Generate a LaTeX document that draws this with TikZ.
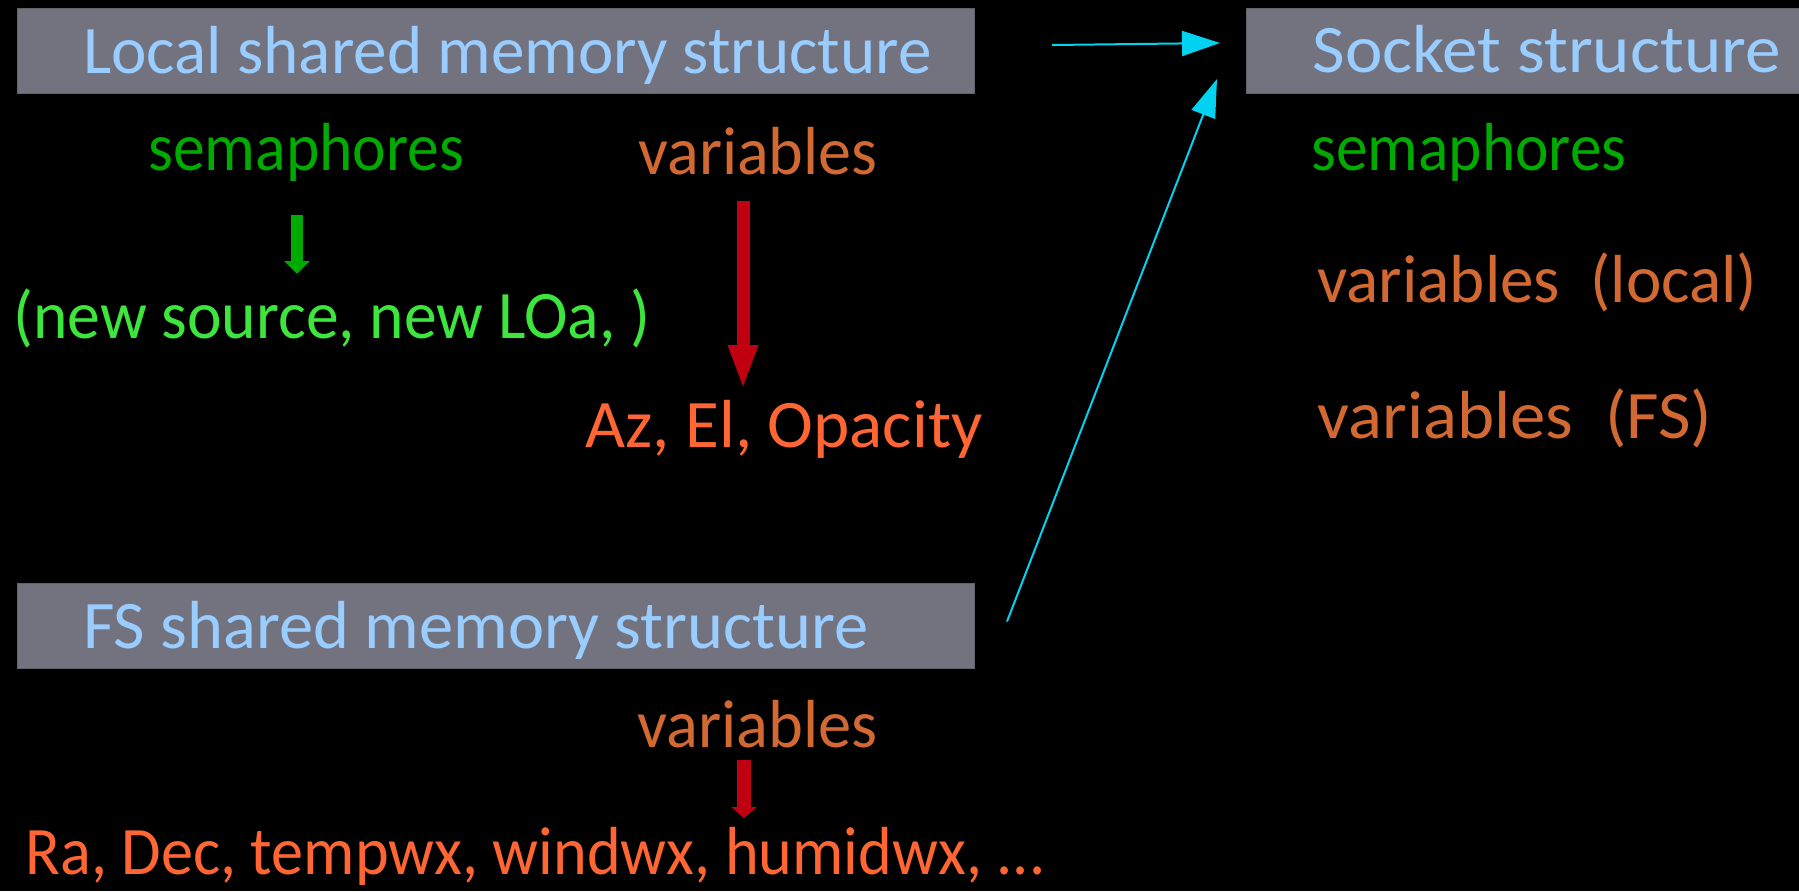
\documentclass[tikz,border=0pt]{standalone}
\usepackage{fontspec}
\usepackage{graphicx}
\setmainfont{Carlito}
\usetikzlibrary{arrows.meta}

\definecolor{boxgray}{RGB}{115,115,128}
\definecolor{titleblue}{RGB}{153,204,255}
\definecolor{semgreen}{RGB}{0,170,0}
\definecolor{litegreen}{RGB}{60,230,60}
\definecolor{varbrown}{RGB}{210,105,50}
\definecolor{valorange}{RGB}{255,102,51}
\definecolor{arrowred}{RGB}{192,0,16}
\definecolor{linkcyan}{RGB}{0,210,240}

% stretch or squeeze a label to a given width, keeping its height
\newcommand\fitw[2]{\resizebox{#1}{\height}{#2}}

\tikzset{
  panel/.style={fill=boxgray, draw=boxgray!85!black, line width=0.5pt,
    anchor=north west, inner sep=0pt},
  lbl/.style={anchor=base west, inner sep=0pt, font=\fontsize{34}{40}\selectfont},
  title/.style={lbl, text=titleblue},
  thickred/.style={draw=arrowred, line width=6.5pt,
    -{Triangle[width=13.5pt,length=22.5pt]}, fill=arrowred},
  thinred/.style={draw=arrowred, line width=7pt,
    -{Triangle[width=12.5pt,length=5.5pt]}, fill=arrowred},
  greendown/.style={draw=semgreen, line width=6pt,
    -{Triangle[width=12.5pt,length=6.5pt]}, fill=semgreen},
  link/.style={draw=linkcyan, line width=1pt,
    -{Triangle[width=12.5pt,length=19pt]}, fill=linkcyan}
}

\begin{document}
\begin{tikzpicture}[x=0.5pt,y=-0.5pt]
  % page
  \fill[black] (0,0) rectangle (1799,891);
  \useasboundingbox (0,0) rectangle (1799,891);

  % grey title panels
  \node[panel, minimum width=478.5pt, minimum height=42.5pt] (local)  at (17,8)   {};
  \node[panel, minimum width=276.5pt, minimum height=42.5pt] (socket) at (1246,8) {};
  \node[panel, minimum width=478.5pt, minimum height=42.5pt] (fs)     at (17,583) {};

  \node[title] (localtxt)  at (83,73)   {\fitw{424pt}{Local shared memory structure}};
  \node[title] (sockettxt) at (1312,72) {\fitw{234pt}{Socket structure}};
  \node[title] (fstxt)     at (83,648)  {\fitw{392.5pt}{FS shared memory structure}};

  % local shared memory contents
  \node[lbl, text=semgreen]   (semL) at (148,170) {\fitw{158pt}{semaphores}};
  \node[lbl, text=varbrown]   (varL) at (638,174) {\fitw{119.5pt}{variables}};
  \node[lbl, text=litegreen]  (newsrc) at (13,338) {\fitw{318.5pt}{(new source, new LOa, )}};
  \node[lbl, text=valorange]  (azel) at (585,447) {\fitw{198.5pt}{Az, El, Opacity}};

  % FS shared memory contents
  \node[lbl, text=varbrown]   (varF) at (637,747) {\fitw{120pt}{variables}};
  \node[lbl, text=valorange]  (fsvals) at (25,874) {\fitw{510pt}{Ra, Dec, tempwx, windwx, humidwx, ...}};

  % socket contents
  \node[lbl, text=semgreen]   (semS)   at (1311,170) {\fitw{157.5pt}{semaphores}};
  \node[lbl, text=varbrown]   (varSl)  at (1317,302) {\fitw{220pt}{variables~~(local)}};
  \node[lbl, text=varbrown]   (varSf)  at (1317,438) {\fitw{197.5pt}{variables~~(FS)}};

  % downward arrows
  \draw[greendown] ([shift={(149,45)}]semL.base west) -- ([shift={(284,-64)}]newsrc.base west);
  \draw[thickred]  ([shift={(105,27)}]varL.base west) -- ([shift={(158,-57)}]azel.base west);
  \draw[thinred]   ([shift={(107,13)}]varF.base west) -- ([shift={(719,-56)}]fsvals.base west);

  % links into the socket structure
  \draw[link] ([shift={(77,-6)}]local.east) -- ([shift={(-26,-8)}]socket.west);
  \draw[link] ([shift={(32,-4.5)}]fs.east) -- ([shift={(-29,-15)}]socket.south west);
\end{tikzpicture}
\end{document}
